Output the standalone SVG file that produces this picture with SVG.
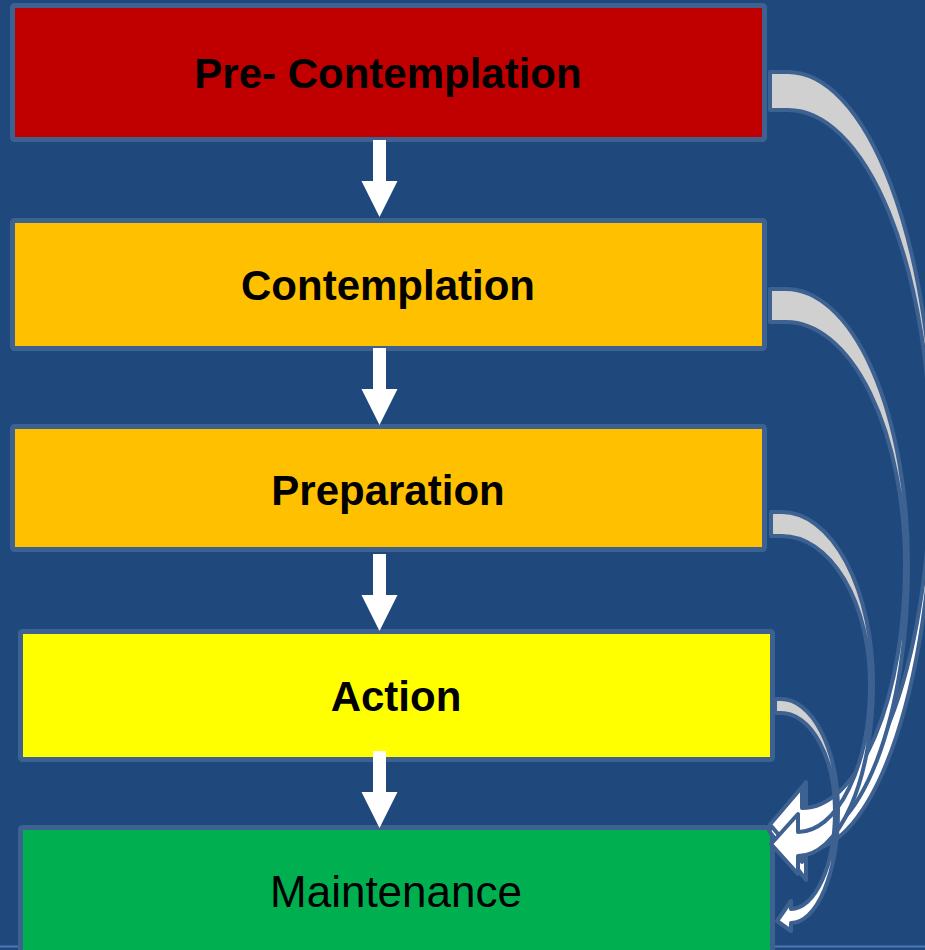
<svg xmlns="http://www.w3.org/2000/svg" width="925" height="950" viewBox="0 0 925 950">
  <style>
    .stage { stroke: #3D6191; stroke-width: 5; }
    .label { font-family: "Liberation Sans", Arial, sans-serif; font-size: 42px; text-anchor: middle; fill: #000; }
    .bold { font-weight: bold; }
    .down { fill: #FFFFFF; }
    .back { fill: #D0D0D0; stroke: #3D6191; stroke-width: 4; stroke-linejoin: round; }
    .front { fill: #FFFFFF; stroke: #3D6191; stroke-width: 4; stroke-linejoin: round; }
  </style>
  <defs>
    <path id="downArrow" d="M-6.5,0 H6.5 V41 H18 L0,77 L-18,41 H-6.5 Z"/>
  </defs>

  <!-- slide background -->
  <rect x="0" y="0" width="925" height="950" fill="#1F497D"/>
  <line x1="0" y1="946.5" x2="925" y2="946.5" stroke="#4A78B4" stroke-width="2"/>

  <g id="pre-contemplation">
    <rect class="stage" x="12.5" y="5.5" width="752" height="134" rx="2" fill="#C00000"/>
    <text class="label bold" x="388" y="88">Pre- Contemplation</text>
  </g>
  <g id="contemplation">
    <rect class="stage" x="12.5" y="220.5" width="752" height="128" rx="2" fill="#FFC000"/>
    <text class="label bold" x="388" y="300">Contemplation</text>
  </g>
  <g id="preparation">
    <rect class="stage" x="12.5" y="426.5" width="752" height="123" rx="2" fill="#FFC000"/>
    <text class="label bold" x="388" y="505">Preparation</text>
  </g>
  <g id="action">
    <rect class="stage" x="20.5" y="631.5" width="752" height="128" rx="2" fill="#FFFF00"/>
    <text class="label bold" x="396" y="711">Action</text>
  </g>
  <g id="maintenance">
    <rect class="stage" x="20.5" y="827.5" width="752" height="160" rx="2" fill="#00B050"/>
    <text class="label" x="396" y="907" style="font-size:44px">Maintenance</text>
  </g>

  <!-- step arrows, then the curved arrows that run down the right side to Maintenance.
       Each curved arrow is an elliptical band: the upper half (back face) is grey,
       the lower half (front face) is white and ends in a left-pointing head. -->
  <g id="connectors">
    <g id="steps">
      <use href="#downArrow" class="down" x="379.5" y="140"/>
      <use href="#downArrow" class="down" x="379.5" y="348"/>
      <use href="#downArrow" class="down" x="379.5" y="554"/>
      <use href="#downArrow" class="down" x="379.5" y="751"/>
    </g>
    <g id="curve-precontemplation">
      <path class="front" d="M934,461 A128,389 0 0 1 806,850 L806,880 L769,831 L806,782 L806,812 A125,351 0 0 0 931,461 Z"/>
      <path class="back" d="M770,72 H788 A146,389 0 0 1 934,461 L931,461 A143,351 0 0 0 788,110 H770 Z"/>
    </g>
    <g id="curve-contemplation">
      <path class="front" d="M908,565 A106,276 0 0 1 802,841 L802,862 L770,824.5 L802,787 L802,808 A103,243 0 0 0 905,565 Z"/>
      <path class="back" d="M770,289 H786 A122,276 0 0 1 908,565 L905,565 A119,243 0 0 0 786,322 H770 Z"/>
    </g>
    <g id="curve-preparation">
      <path class="front" d="M873,684 A75,172 0 0 1 798,856 L798,874 L771,844 L798,814 L798,832 A72,148 0 0 0 870,684 Z"/>
      <path class="back" d="M771,512 H782 A91,172 0 0 1 873,684 L870,684 A88,148 0 0 0 782,536 H771 Z"/>
    </g>
    <g id="curve-action">
      <path class="front" d="M838,811 A47,112 0 0 1 791,923 L791,931 L777,921 L791,901 L791,909 A44,98 0 0 0 835,811 Z"/>
      <path class="back" d="M775,699 H781 A57,112 0 0 1 838,811 L835,811 A54,98 0 0 0 781,713 H775 Z"/>
    </g>
  </g>
</svg>
